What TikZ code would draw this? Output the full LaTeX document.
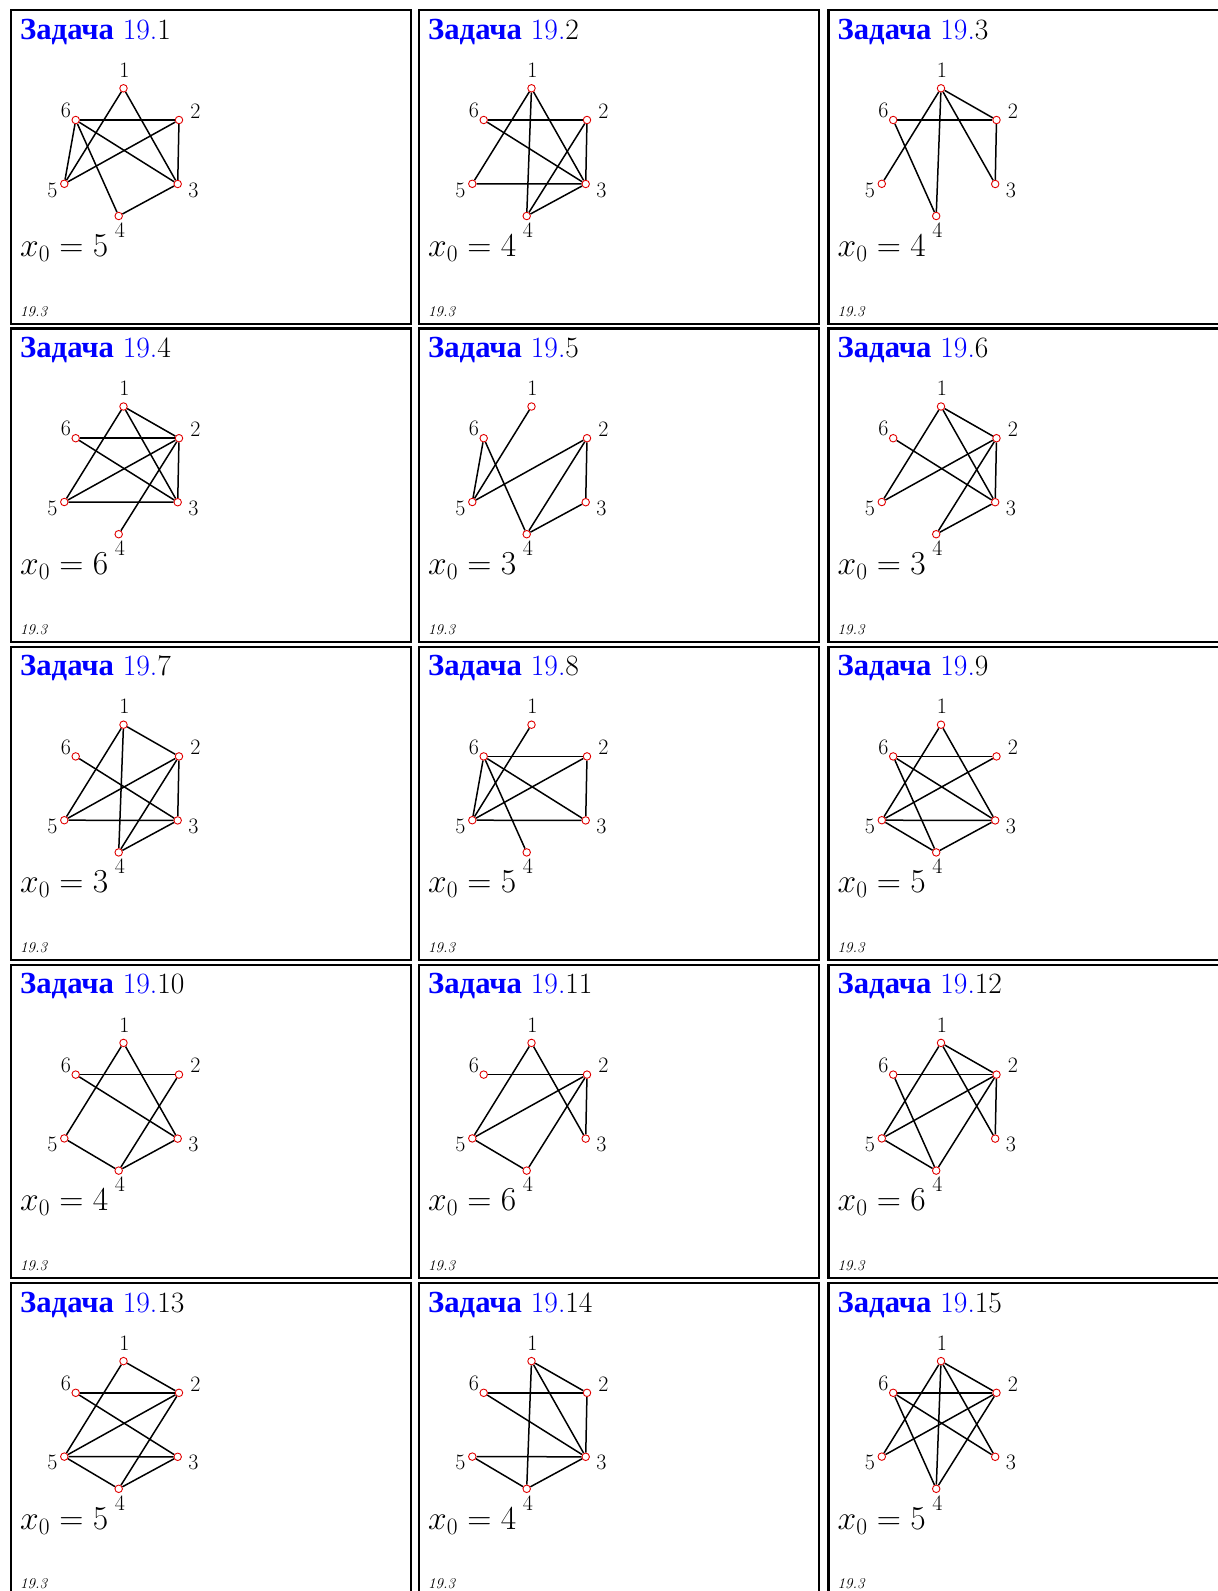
\RequirePackage{fix-cm}
\documentclass[tikz,border=0pt]{standalone}
\usepackage{fontspec}
\newfontfamily\cyrfont[Scale=1.04]{Liberation Serif}
\usetikzlibrary{backgrounds}
\definecolor{titleblue}{RGB}{0,0,255}
\definecolor{vred}{RGB}{225,0,0}
\tikzset{
  frame/.style={draw=black, line width=2.2pt},
  vtx/.style={circle, draw=vred, fill=white, line width=0.9pt, inner sep=0pt, minimum size=7.5pt},
  edgeline/.style={line width=1.5pt, draw=black},
  vlab/.style={inner sep=0pt, font=\fontsize{22}{22}\selectfont},
  titletext/.style={anchor=base west, inner sep=0pt, font=\fontsize{29.5}{29.5}\selectfont},
  xlab/.style={anchor=base west, inner sep=0pt, font=\fontsize{33.5}{33.5}\selectfont},
  reflab/.style={anchor=base west, inner sep=0pt, font=\fontsize{15}{15}\selectfont\itshape}
}
\newcommand\gpanel[5]{%
  \begin{scope}[shift={(#1,#2)}]
    \draw[frame] (0,0) rectangle (400,313.3);
    \node[titletext] (t#3) at (9,29) {{\cyrfont\bfseries\color{titleblue}Задача} {\color{titleblue}19.}#3};
    \node[vtx] (p#3v1) at (112.5,78) {};
    \node[vtx] (p#3v2) at (168,109.7) {};
    \node[vtx] (p#3v3) at (166.7,173.7) {};
    \node[vtx] (p#3v4) at (107.7,205.7) {};
    \node[vtx] (p#3v5) at (53.3,173.5) {};
    \node[vtx] (p#3v6) at (64.7,109.7) {};
    \node[vlab] (p#3l1) at (113.5,60) {1};
    \node[vlab] (p#3l2) at (184.3,100.7) {2};
    \node[vlab] (p#3l3) at (182.3,179.7) {3};
    \node[vlab] (p#3l4) at (109,219.7) {4};
    \node[vlab] (p#3l5) at (41.3,179.7) {5};
    \node[vlab] (p#3l6) at (55,100.3) {6};
    \begin{pgfonlayer}{background}
      \foreach \a/\b in {#5} { \draw[edgeline] (p#3v\a) -- (p#3v\b); }
    \end{pgfonlayer}
    \node[xlab] (x#3) at (9,246) {$x_0=#4$};
    \node[reflab] (r#3) at (9,305.7) {19.3};
  \end{scope}}
\begin{document}
\begin{tikzpicture}[x=1pt,y=-1pt]
\useasboundingbox (0,0) rectangle (1218,1591);
\clip (0,0) rectangle (1218,1591);
\gpanel{11}{10.3}{1}{5}{1/5,1/3,6/2,6/5,6/3,6/4,5/2,2/3,3/4}
\gpanel{419}{10.3}{2}{4}{1/5,1/4,1/3,6/2,6/3,5/3,2/3,2/4,4/3}
\gpanel{828.5}{10.3}{3}{4}{1/5,1/4,1/3,1/2,6/2,6/4,2/3}
\gpanel{11}{328.5}{4}{6}{1/5,1/2,1/3,6/2,6/3,5/2,5/3,2/3,2/4}
\gpanel{419}{328.5}{5}{3}{1/5,6/5,6/4,5/2,2/3,2/4,4/3}
\gpanel{828.5}{328.5}{6}{3}{1/5,1/2,1/3,6/3,5/2,2/3,2/4,4/3}
\gpanel{11}{646.7}{7}{3}{1/5,1/2,1/4,6/3,5/2,5/3,2/3,2/4,4/3}
\gpanel{419}{646.7}{8}{5}{1/5,6/2,6/5,6/3,6/4,5/2,5/3,2/3}
\gpanel{828.5}{646.7}{9}{5}{1/5,1/3,6/2,6/3,6/4,5/2,5/3,5/4,4/3}
\gpanel{11}{964.9}{10}{4}{1/5,1/3,6/2,6/3,5/4,2/4,4/3}
\gpanel{419}{964.9}{11}{6}{1/5,1/3,6/2,5/2,5/4,2/4,2/3}
\gpanel{828.5}{964.9}{12}{6}{1/5,1/2,1/3,6/2,6/4,5/2,5/4,2/4,2/3}
\gpanel{11}{1283.1}{13}{5}{1/5,1/2,6/2,6/3,5/2,5/3,5/4,2/4,4/3}
\gpanel{419}{1283.1}{14}{4}{1/4,1/2,1/3,6/2,6/3,5/3,5/4,2/3,4/3}
\gpanel{828.5}{1283.1}{15}{5}{1/5,1/4,1/2,1/3,6/2,6/3,6/4,5/2,2/4}
\end{tikzpicture}
\end{document}
